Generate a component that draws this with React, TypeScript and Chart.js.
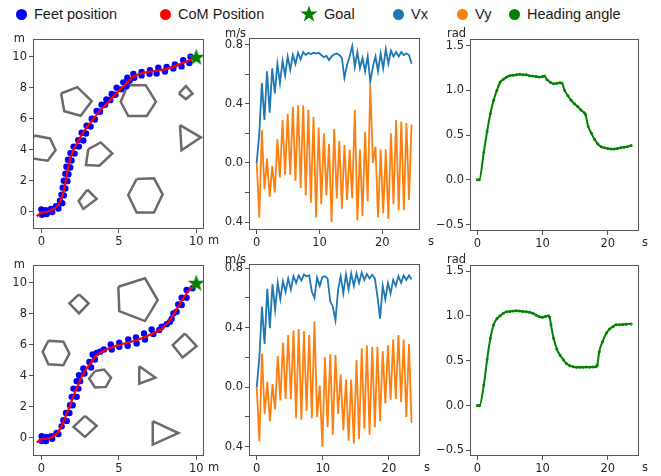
import React, { useEffect, useRef } from "react";
import { Chart, registerables } from "chart.js";

Chart.register(...registerables);

// ---------------- data ----------------
type P = [number, number];

const FEET_TOP: P[] = [
  [0.0, 0.15], [0.04, -0.2], [0.28, 0.09], [0.34, -0.15], [0.62, 0.17], [0.7, -0.03], [0.95, 0.35], [1.1, 0.2],
  [1.2, 0.7], [1.35, 0.55], [1.3, 1.1], [1.45, 1.05], [1.38, 1.55], [1.55, 1.5], [1.45, 2.0], [1.68, 1.97],
  [1.55, 2.45], [1.75, 2.42], [1.62, 2.9], [1.86, 2.85], [1.72, 3.35], [1.95, 3.3], [1.88, 3.78], [2.15, 3.75],
  [2.08, 4.2], [2.42, 4.2], [2.38, 4.62], [2.71, 4.6], [2.6, 5.1], [2.88, 5.05], [2.92, 5.55], [3.18, 5.5],
  [3.25, 6.0], [3.46, 5.95], [3.57, 6.5], [3.78, 6.45], [3.89, 6.9], [4.12, 6.9], [4.2, 7.25], [4.45, 7.2],
  [4.54, 7.6], [4.78, 7.55], [4.86, 8.0], [5.15, 7.9], [5.29, 8.35], [5.5, 8.1], [5.55, 8.65], [5.7, 8.45],
  [5.94, 8.9], [6.0, 8.65], [6.47, 9.03], [6.47, 8.8], [7.01, 9.14], [6.98, 8.9], [7.55, 9.29], [7.44, 8.92],
  [8.09, 9.35], [7.98, 9.05], [8.62, 9.5], [8.52, 9.25], [9.16, 9.78], [9.05, 9.38], [9.63, 10.0], [9.55, 9.6],
];

const COM_TOP: P[] = [
  [-0.3, -0.3], [0.0, -0.05], [0.3, -0.02], [0.65, 0.07], [0.95, 0.28], [1.2, 0.62], [1.38, 1.1], [1.5, 1.6],
  [1.6, 2.1], [1.68, 2.6], [1.78, 3.1], [1.92, 3.6], [2.1, 4.05], [2.35, 4.5], [2.6, 4.95], [2.9, 5.4],
  [3.25, 5.85], [3.6, 6.3], [4.0, 6.75], [4.4, 7.15], [4.8, 7.6], [5.2, 8.0], [5.6, 8.4], [5.95, 8.75],
  [6.5, 8.95], [7.0, 9.05], [7.5, 9.1], [8.0, 9.2], [8.5, 9.35], [9.0, 9.55], [9.5, 9.75], [10.0, 10.0],
];

const FEET_BOTTOM: P[] = [
  [0.02, 0.11], [0.02, -0.19], [0.33, 0.07], [0.3, -0.19], [0.65, 0.12], [0.7, -0.05], [0.98, 0.32], [1.1, 0.25],
  [1.31, 0.75], [1.42, 1.14], [1.64, 1.1], [1.59, 1.61], [1.81, 1.61], [1.85, 2.11], [2.02, 2.11], [1.96, 2.65],
  [2.28, 2.65], [2.07, 3.18], [2.39, 3.18], [2.28, 3.66], [2.5, 3.66], [2.43, 4.05], [2.78, 4.15], [2.71, 4.47],
  [3.21, 4.54], [3.1, 4.9], [3.46, 5.05], [3.31, 5.38], [3.57, 5.48], [3.79, 5.55], [4.04, 5.7], [4.48, 6.02],
  [4.54, 5.7], [5.03, 6.13], [5.03, 5.87], [5.61, 6.35], [5.57, 5.94], [6.11, 6.48], [6.15, 6.09], [6.63, 6.73],
  [6.69, 6.34], [7.12, 6.99], [7.23, 6.69], [7.61, 6.95], [7.77, 7.16], [8.09, 7.33], [8.3, 7.48], [8.41, 7.66],
  [8.52, 8.02], [8.73, 8.13], [8.84, 8.6], [9.06, 8.56], [9.06, 9.03], [9.38, 9.03], [9.38, 9.53], [9.76, 9.64],
];

const COM_BOTTOM: P[] = [
  [-0.3, -0.3], [0.0, -0.05], [0.35, -0.05], [0.7, 0.05], [1.0, 0.28], [1.25, 0.65], [1.45, 1.1], [1.65, 1.6],
  [1.85, 2.1], [2.05, 2.65], [2.25, 3.15], [2.45, 3.6], [2.65, 4.05], [2.9, 4.45], [3.2, 4.85], [3.45, 5.2],
  [3.8, 5.5], [4.3, 5.75], [4.8, 5.92], [5.3, 6.07], [5.8, 6.2], [6.3, 6.35], [6.8, 6.55], [7.3, 6.78],
  [7.8, 7.05], [8.2, 7.45], [8.5, 7.9], [8.8, 8.4], [9.1, 8.9], [9.4, 9.35], [9.7, 9.7], [10.0, 10.0],
];

const GOAL: P[] = [[10, 10]];

const OBSTACLES_TOP: P[][] = [
  [[1.27, 7.63], [2.32, 8.04], [3.25, 7.14], [2.54, 6.19], [1.48, 6.49]],
  [[5.57, 8.17], [6.73, 8.17], [7.4, 7.1], [6.8, 6.17], [5.61, 6.17], [5.12, 7.1]],
  [[8.88, 7.63], [9.33, 8.11], [9.76, 7.63], [9.33, 7.27]],
  [[8.95, 5.59], [10.3, 4.8], [9.05, 3.96]],
  [[-0.45, 4.92], [0.56, 4.73], [0.92, 3.98], [0.41, 3.29], [-0.5, 3.42], [-0.95, 4.15]],
  [[3.03, 4.04], [3.83, 4.47], [4.58, 3.76], [3.74, 2.97], [2.88, 3.01]],
  [[2.97, 1.42], [3.57, 0.82], [2.71, 0.17], [2.41, 0.69]],
  [[6.15, 2.11], [7.27, 2.15], [7.83, 1.12], [7.27, -0.06], [6.15, -0.06], [5.61, 1.08]],
];

const OBSTACLES_BOTTOM: P[][] = [
  [[2.43, 9.25], [3.05, 8.67], [2.43, 8.02], [1.81, 8.67]],
  [[4.97, 9.74], [6.69, 10.28], [7.51, 8.88], [6.69, 7.53], [5.03, 8.17]],
  [[0.45, 6.26], [1.42, 6.2], [1.81, 5.44], [1.42, 4.69], [0.45, 4.75], [0.09, 5.55]],
  [[9.27, 6.73], [10.02, 5.91], [9.12, 5.18], [8.48, 5.98]],
  [[3.47, 4.32], [4.05, 4.41], [4.5, 3.89], [4.17, 3.29], [3.47, 3.25], [3.08, 3.83]],
  [[6.32, 4.62], [7.36, 3.89], [6.32, 3.5]],
  [[2.82, 1.42], [3.57, 0.78], [2.82, 0.07], [2.07, 0.71]],
  [[7.19, 1.08], [8.84, 0.32], [7.19, -0.43]],
];

const TIME_TOP = [
  0, 0.41, 0.82, 1.23, 1.64, 2.06, 2.47, 2.88, 3.29, 3.7,
  4.11, 4.52, 4.93, 5.34, 5.75, 6.17, 6.58, 6.99, 7.4, 7.81,
  8.22, 8.63, 9.04, 9.45, 9.86, 10.28, 10.69, 11.1, 11.51, 11.92,
  12.33, 12.74, 13.15, 13.56, 13.97, 14.39, 14.8, 15.21, 15.62, 16.03,
  16.44, 16.85, 17.26, 17.67, 18.08, 18.5, 18.91, 19.32, 19.73, 20.14,
  20.55, 20.96, 21.37, 21.78, 22.19, 22.61, 23.02, 23.43, 23.84, 24.25,
  24.66,
];
const VX_TOP = [
  0.0, 0.2, 0.54, 0.29, 0.62, 0.34, 0.64, 0.47, 0.67, 0.54,
  0.69, 0.59, 0.72, 0.63, 0.73, 0.67, 0.745, 0.7, 0.75, 0.73,
  0.745, 0.735, 0.745, 0.74, 0.745, 0.73, 0.715, 0.725, 0.695, 0.72,
  0.735, 0.74, 0.73, 0.71, 0.575, 0.665, 0.72, 0.79, 0.65, 0.75,
  0.64, 0.71, 0.62, 0.72, 0.55, 0.65, 0.72, 0.62, 0.74, 0.64,
  0.77, 0.67, 0.76, 0.72, 0.75, 0.72, 0.75, 0.73, 0.74, 0.73,
  0.67,
];
const VY_TOP = [
  0.0, -0.37, 0.22, -0.18, 0.03, -0.23, -0.02, -0.2, 0.16, -0.1,
  0.29, -0.08, 0.33, -0.08, 0.38, -0.12, 0.39, -0.17, 0.39, -0.22,
  0.36, -0.27, 0.31, -0.37, 0.24, -0.28, 0.2, -0.22, 0.13, -0.4,
  0.23, -0.24, 0.15, -0.31, 0.12, -0.25, 0.09, -0.24, 0.36, -0.39,
  0.09, -0.36, 0.21, -0.26, 0.53, 0.0, 0.11, -0.37, 0.09, -0.34,
  0.09, -0.38, 0.2, -0.28, 0.29, -0.32, 0.28, -0.32, 0.27, -0.25,
  0.26,
];

const TIME_BOTTOM = [
  0, 0.4, 0.79, 1.19, 1.59, 1.99, 2.38, 2.78, 3.18, 3.57,
  3.97, 4.37, 4.76, 5.16, 5.56, 5.96, 6.35, 6.75, 7.15, 7.54,
  7.94, 8.34, 8.73, 9.13, 9.53, 9.93, 10.32, 10.72, 11.12, 11.51,
  11.91, 12.31, 12.7, 13.1, 13.5, 13.9, 14.29, 14.69, 15.09, 15.48,
  15.88, 16.28, 16.67, 17.07, 17.47, 17.87, 18.26, 18.66, 19.06, 19.45,
  19.85, 20.25, 20.64, 21.04, 21.44, 21.84, 22.23, 22.63, 23.03, 23.42,
];
const VX_BOTTOM = [
  0.0, 0.2, 0.54, 0.29, 0.66, 0.395, 0.69, 0.52, 0.7, 0.59,
  0.71, 0.64, 0.73, 0.655, 0.745, 0.7, 0.75, 0.716, 0.757, 0.745,
  0.75, 0.64, 0.6, 0.735, 0.68, 0.74, 0.745, 0.73, 0.576, 0.54,
  0.45, 0.655, 0.745, 0.63, 0.757, 0.655, 0.764, 0.68, 0.764, 0.7,
  0.77, 0.72, 0.76, 0.73, 0.755, 0.73, 0.61, 0.46, 0.68, 0.59,
  0.7, 0.63, 0.72, 0.68, 0.745, 0.7, 0.75, 0.72, 0.75, 0.725,
];
const VY_BOTTOM = [
  0.0, -0.365, 0.225, -0.18, 0.035, -0.23, 0.02, -0.15, 0.21, -0.09,
  0.3, -0.08, 0.35, -0.08, 0.38, -0.21, 0.39, -0.22, 0.375, -0.16,
  0.35, -0.21, 0.44, -0.2, 0.01, -0.4, 0.2, -0.27, 0.22, -0.32,
  0.215, -0.18, 0.086, -0.29, 0.05, -0.36, 0.05, -0.38, 0.18, -0.35,
  0.26, -0.28, 0.28, -0.32, 0.27, -0.27, 0.27, -0.23, 0.24, -0.11,
  0.28, -0.085, 0.32, -0.08, 0.35, -0.1, 0.32, -0.2, 0.29, -0.24,
];

const HEADING_TIME_TOP = [
  0, 0.3, 1.0, 1.5, 2.0, 2.5, 3.0, 3.5, 4.0, 4.5,
  5.0, 5.5, 6.0, 6.5, 7.0, 7.5, 8.0, 8.5, 9.0, 9.5,
  10.0, 10.3, 10.7, 11.2, 11.7, 12.2, 12.7, 13.0, 13.4, 13.9,
  14.4, 14.9, 15.4, 15.9, 16.4, 16.6, 17.0, 17.5, 18.0, 18.5,
  19.0, 19.5, 20.0, 20.5, 21.0, 21.5, 22.0, 22.5, 23.0, 23.6,
];
const HEADING_TOP = [
  0, 0, 0.31, 0.54, 0.74, 0.89, 1.0, 1.09, 1.125, 1.15,
  1.165, 1.17, 1.175, 1.18, 1.175, 1.175, 1.165, 1.16, 1.155, 1.15,
  1.155, 1.16, 1.12, 1.09, 1.075, 1.08, 1.085, 1.08, 1.0, 0.94,
  0.89, 0.85, 0.82, 0.78, 0.75, 0.73, 0.6, 0.52, 0.45, 0.4,
  0.37, 0.36, 0.35, 0.345, 0.345, 0.35, 0.36, 0.365, 0.37, 0.385,
];
const HEADING_TIME_BOTTOM = [
  0, 0.35, 1.0, 1.5, 2.0, 2.5, 3.0, 3.5, 4.0, 4.5,
  5.0, 5.5, 6.0, 6.5, 7.0, 7.5, 8.0, 8.5, 9.0, 9.5,
  10.0, 10.5, 10.9, 11.1, 11.3, 11.7, 12.2, 12.7, 13.2, 13.7,
  14.2, 14.7, 15.2, 15.7, 16.2, 16.7, 17.2, 17.7, 18.2, 18.4,
  18.7, 19.2, 19.8, 20.3, 20.8, 21.3, 21.8, 22.3, 22.8, 23.6,
];
const HEADING_BOTTOM = [
  0, 0, 0.23, 0.51, 0.75, 0.9, 0.967, 1.0, 1.03, 1.045,
  1.05, 1.055, 1.056, 1.055, 1.05, 1.045, 1.04, 1.03, 1.01, 0.99,
  0.985, 0.995, 1.0, 0.985, 0.9, 0.75, 0.63, 0.56, 0.51, 0.465,
  0.445, 0.432, 0.428, 0.427, 0.427, 0.43, 0.428, 0.43, 0.432, 0.45,
  0.6, 0.71, 0.81, 0.855, 0.88, 0.9, 0.9, 0.905, 0.907, 0.91,
];

// tick values and labels
const PATH_X_TICKS = [0, 5, 10];
const PATH_X_LABELS = ["0", "5", "10"];
const PATH_Y_TICKS = [0, 2, 4, 6, 8, 10];
const PATH_Y_LABELS = ["0", "2", "4", "6", "8", "10"];
const TIME_TICKS = [0, 10, 20];
const TIME_LABELS = ["0", "10", "20"];
const VEL_Y_TICKS = [-0.4, -0.2, 0, 0.2, 0.4, 0.6, 0.8];
const VEL_Y_LABELS = ["0.4", "", "0.0", "", "0.4", "", "0.8"];
const HEAD_Y_TICKS = [-0.5, 0, 0.5, 1.0, 1.5];
const HEAD_Y_LABELS = ["\u22120.5", "0.0", "0.5", "1.0", "1.5"];

// ---------------- styling / layout ----------------
const FONT_FAMILY = "'DejaVu Sans', 'Liberation Sans', sans-serif";
const TICK_SIZE = 11.5;
const TEXT_COLOR = "#262626";
const AXIS_COLOR = "#555555";
const PAD = { l: 40, t: 24, r: 26, b: 30 };

type Rect = { l: number; t: number; r: number; b: number };
const TL_RECT: Rect = { l: 33, t: 39, r: 204, b: 229 };
const TM_RECT: Rect = { l: 249, t: 38, r: 420, b: 230 };
const TR_RECT: Rect = { l: 470, t: 39, r: 639, b: 231 };
const BL_RECT: Rect = { l: 33, t: 265, r: 204, b: 456 };
const BM_RECT: Rect = { l: 249, t: 264, r: 420, b: 456 };
const BR_RECT: Rect = { l: 470, t: 265, r: 639, b: 456 };

const toXY = (p: P) => ({ x: p[0], y: p[1] });
const zipXY = (xs: number[], ys: number[]) => xs.map((x, i) => ({ x, y: ys[i] }));

function makeStarCanvas(size: number, color: string) {
  const c = document.createElement("canvas");
  c.width = size;
  c.height = size;
  const ctx = c.getContext("2d")!;
  const cx = size / 2, cy = size / 2 + 0.8;
  const R = size / 2, r = R * 0.4;
  ctx.beginPath();
  for (let i = 0; i < 10; i++) {
    const rad = i % 2 === 0 ? R : r;
    const a = -Math.PI / 2 + (i * Math.PI) / 5;
    const x = cx + rad * Math.cos(a), y = cy + rad * Math.sin(a);
    if (i === 0) ctx.moveTo(x, y); else ctx.lineTo(x, y);
  }
  ctx.closePath();
  ctx.fillStyle = color;
  ctx.fill();
  return c;
}

function makeAxis(min: number, max: number, ticks: number[], labels: string[], isX: boolean) {
  return {
    type: "linear",
    min,
    max,
    afterBuildTicks: (s: any) => {
      s.ticks = ticks.map((v) => ({ value: v }));
    },
    afterFit: (s: any) => {
      if (isX) s.height = PAD.b;
      else s.width = PAD.l;
    },
    ticks: {
      callback: (_v: any, i: number) => labels[i],
      font: { family: FONT_FAMILY, size: TICK_SIZE },
      color: TEXT_COLOR,
      padding: 2,
      maxRotation: 0,
      autoSkip: false,
      includeBounds: false,
    },
    grid: {
      display: true,
      drawOnChartArea: false,
      drawTicks: true,
      tickLength: 4,
      color: AXIS_COLOR,
      tickColor: AXIS_COLOR,
      lineWidth: 1,
    },
    border: { display: false },
  };
}

const decorPlugin = {
  id: "panelDecor",
  afterDraw(chart: any, _args: any, opts: any) {
    const { ctx, chartArea: a } = chart;
    ctx.save();
    ctx.strokeStyle = AXIS_COLOR;
    ctx.lineWidth = 1;
    ctx.strokeRect(Math.round(a.left) + 0.5, Math.round(a.top) + 0.5, Math.round(a.right - a.left) - 1, Math.round(a.bottom - a.top) - 1);
    ctx.fillStyle = TEXT_COLOR;
    ctx.font = `${TICK_SIZE}px ${FONT_FAMILY}`;
    if (opts.yUnit) {
      ctx.textAlign = "right";
      ctx.textBaseline = "alphabetic";
      ctx.fillText(opts.yUnit, a.left + opts.yDx, a.top + opts.yDy);
    }
    if (opts.xUnit) {
      ctx.textAlign = "left";
      ctx.textBaseline = "top";
      ctx.fillText(opts.xUnit, a.right + opts.xDx, a.bottom + 6);
    }
    ctx.restore();
  },
};

function baseOptions(scales: any, decor: any) {
  return {
    responsive: false,
    maintainAspectRatio: false,
    animation: false,
    events: [],
    layout: { padding: { left: 0, top: PAD.t, right: PAD.r, bottom: 0 } },
    plugins: { legend: { display: false }, tooltip: { enabled: false }, panelDecor: decor },
    scales,
  };
}

function pathConfig(feet: P[], com: P[], obstacles: P[][], xr: [number, number], yr: [number, number]) {
  const star = makeStarCanvas(18, "#008000");
  const datasets: any[] = [
    { data: GOAL.map(toXY), pointStyle: star, pointRadius: 9, order: 0 },
    { data: com.map(toXY), showLine: true, borderColor: "#ff0000", backgroundColor: "#ff0000", borderWidth: 2.2, pointRadius: 0, order: 1 },
    { data: feet.map(toXY), pointRadius: 3.2, backgroundColor: "#0000ff", borderColor: "#0000ff", borderWidth: 0, order: 2 },
    ...obstacles.map((poly) => ({
      data: [...poly, poly[0]].map(toXY),
      showLine: true,
      borderColor: "#6a6a6a",
      borderWidth: 2.5,
      pointRadius: 0,
      order: 3,
    })),
  ];
  return {
    type: "scatter",
    data: { datasets },
    options: baseOptions(
      {
        x: makeAxis(xr[0], xr[1], PATH_X_TICKS, PATH_X_LABELS, true),
        y: makeAxis(yr[0], yr[1], PATH_Y_TICKS, PATH_Y_LABELS, false),
      },
      { yUnit: "m", yDx: -8, yDy: 3, xUnit: "m", xDx: 4 }
    ),
    plugins: [decorPlugin],
  };
}

function velConfig(t: number[], vx: number[], vy: number[], xr: [number, number], yr: [number, number], xDx: number) {
  return {
    type: "scatter",
    data: {
      datasets: [
        { data: zipXY(t, vx), showLine: true, borderColor: "#1f77b4", borderWidth: 1.8, pointRadius: 0, order: 1 },
        { data: zipXY(t, vy), showLine: true, borderColor: "#ff7f0e", borderWidth: 1.8, pointRadius: 0, order: 0 },
      ],
    },
    options: baseOptions(
      {
        x: makeAxis(xr[0], xr[1], TIME_TICKS, TIME_LABELS, true),
        y: makeAxis(yr[0], yr[1], VEL_Y_TICKS, VEL_Y_LABELS, false),
      },
      { yUnit: "m/s", yDx: -3, yDy: -1, xUnit: "s", xDx: xDx }
    ),
    plugins: [decorPlugin],
  };
}

function headConfig(t: number[], h: number[], xr: [number, number], yr: [number, number]) {
  return {
    type: "scatter",
    data: {
      datasets: [
        {
          data: zipXY(t, h),
          showLine: true,
          borderColor: "#008000",
          backgroundColor: "#008000",
          borderWidth: 2,
          pointRadius: 0.5,
          cubicInterpolationMode: "monotone",
        },
      ],
    },
    options: baseOptions(
      {
        x: makeAxis(xr[0], xr[1], TIME_TICKS, TIME_LABELS, true),
        y: makeAxis(yr[0], yr[1], HEAD_Y_TICKS, HEAD_Y_LABELS, false),
      },
      { yUnit: "rad", yDx: -4, yDy: -2, xUnit: "s", xDx: 3 }
    ),
    plugins: [decorPlugin],
  };
}

function Panel({ rect, build }: { rect: Rect; build: () => any }) {
  const ref = useRef<HTMLCanvasElement>(null);
  const w = rect.r - rect.l + PAD.l + PAD.r;
  const h = rect.b - rect.t + PAD.t + PAD.b;
  useEffect(() => {
    const chart = new Chart(ref.current as HTMLCanvasElement, build());
    return () => chart.destroy();
  }, []);
  return (
    <canvas
      ref={ref}
      width={w}
      height={h}
      style={{ position: "absolute", left: rect.l - PAD.l, top: rect.t - PAD.t, width: w, height: h }}
    />
  );
}

const LEGEND_ITEMS = [
  { label: "Feet position", color: "#0000ff", star: false, x: 22 },
  { label: "CoM Position", color: "#ff0000", star: false, x: 166 },
  { label: "Goal", color: "#008000", star: true, x: 308 },
  { label: "Vx", color: "#1f77b4", star: false, x: 399 },
  { label: "Vy", color: "#ff7f0e", star: false, x: 463 },
  { label: "Heading angle", color: "#008000", star: false, x: 515 },
];

function Legend() {
  return (
    <>
      {LEGEND_ITEMS.map((it) => (
        <div
          key={it.label}
          style={{ position: "absolute", left: it.x - 8, top: 4, height: 20, display: "flex", alignItems: "center", whiteSpace: "nowrap" }}
        >
          {it.star ? (
            <svg width="18" height="18" viewBox="0 0 18 18" style={{ marginRight: 6 }}>
              <polygon
                points="9,0.5 11.1,6.6 17.5,6.6 12.3,10.4 14.3,16.6 9,12.8 3.7,16.6 5.7,10.4 0.5,6.6 6.9,6.6"
                fill={it.color}
              />
            </svg>
          ) : (
            <span style={{ display: "inline-block", width: 11, height: 11, borderRadius: "50%", background: it.color, marginLeft: 2, marginRight: 7 }} />
          )}
          <span style={{ fontFamily: "'Liberation Sans', Arial, sans-serif", fontSize: 14.5, color: "#1a1a1a" }}>{it.label}</span>
        </div>
      ))}
    </>
  );
}

export default function App() {
  return (
    <div style={{ position: "fixed", left: 0, top: 0, width: 661, height: 476, background: "#ffffff", overflow: "hidden" }}>
      <Legend />
      <Panel rect={TL_RECT} build={() => pathConfig(FEET_TOP, COM_TOP, OBSTACLES_TOP, [-0.54, 10.5], [-1.12, 11.15])} />
      <Panel rect={TM_RECT} build={() => velConfig(TIME_TOP, VX_TOP, VY_TOP, [-1.23, 26.0], [-0.454, 0.845], 8)} />
      <Panel rect={TR_RECT} build={() => headConfig(HEADING_TIME_TOP, HEADING_TOP, [-1.12, 24.8], [-0.572, 1.575])} />
      <Panel rect={BL_RECT} build={() => pathConfig(FEET_BOTTOM, COM_BOTTOM, OBSTACLES_BOTTOM, [-0.54, 10.5], [-1.16, 11.14])} />
      <Panel rect={BM_RECT} build={() => velConfig(TIME_BOTTOM, VX_BOTTOM, VY_BOTTOM, [-1.17, 24.7], [-0.463, 0.827], 4)} />
      <Panel rect={BR_RECT} build={() => headConfig(HEADING_TIME_BOTTOM, HEADING_BOTTOM, [-1.12, 24.8], [-0.562, 1.567])} />
    </div>
  );
}
